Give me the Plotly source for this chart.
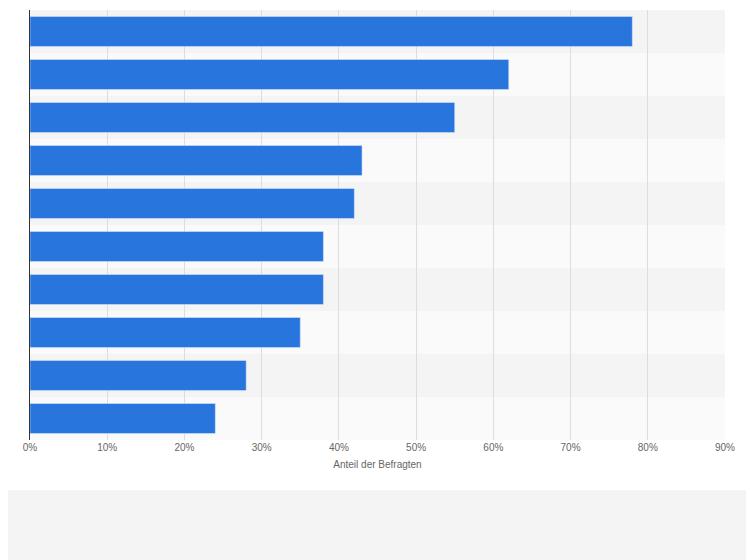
import plotly.graph_objects as go

categories = ["A", "B", "C", "D", "E", "F", "G", "H", "I", "J"]
values = [78, 62, 55, 43, 42, 38, 38, 35, 28, 24]
tick_vals = [0, 10, 20, 30, 40, 50, 60, 70, 80, 90]
tick_text = [f"{v}%" for v in tick_vals]

fig = go.Figure()
fig.add_trace(go.Bar(x=values, y=categories, orientation="h",
                     marker=dict(color="#2876dd"), hoverinfo="x"))

# alternating row bands
shapes = []
for i, c in enumerate(categories):
    shapes.append(dict(type="rect", xref="paper", yref="y", layer="below",
                       x0=0, x1=1, y0=i - 0.5, y1=i + 0.5, line_width=0,
                       fillcolor="#f4f4f4" if i % 2 == 0 else "#fafafa"))
# grey footer strip
shapes.append(dict(type="rect", xref="paper", yref="paper", layer="below",
                   x0=-0.1, x1=1.1, y0=-0.32, y1=-0.116, line_width=0,
                   fillcolor="#f4f4f4"))

fig.update_layout(
    width=754, height=560,
    margin=dict(l=22, r=37, t=2, b=128),
    paper_bgcolor="white", plot_bgcolor="rgba(0,0,0,0)",
    bargap=0.3, showlegend=False, shapes=shapes,
    xaxis=dict(range=[0, 90], tickvals=tick_vals, ticktext=tick_text,
               showgrid=True, gridcolor="#dddddd", zeroline=False,
               tickfont=dict(family="Arial, Liberation Sans", size=10, color="#666"),
               title=dict(text="Anteil der Befragten", standoff=8,
                          font=dict(family="Arial, Liberation Sans", size=10, color="#666"))),
    yaxis=dict(autorange="reversed", showticklabels=False, showline=True,
               linecolor="#333", linewidth=1, showgrid=False),
)

fig.write_html("out.html")
